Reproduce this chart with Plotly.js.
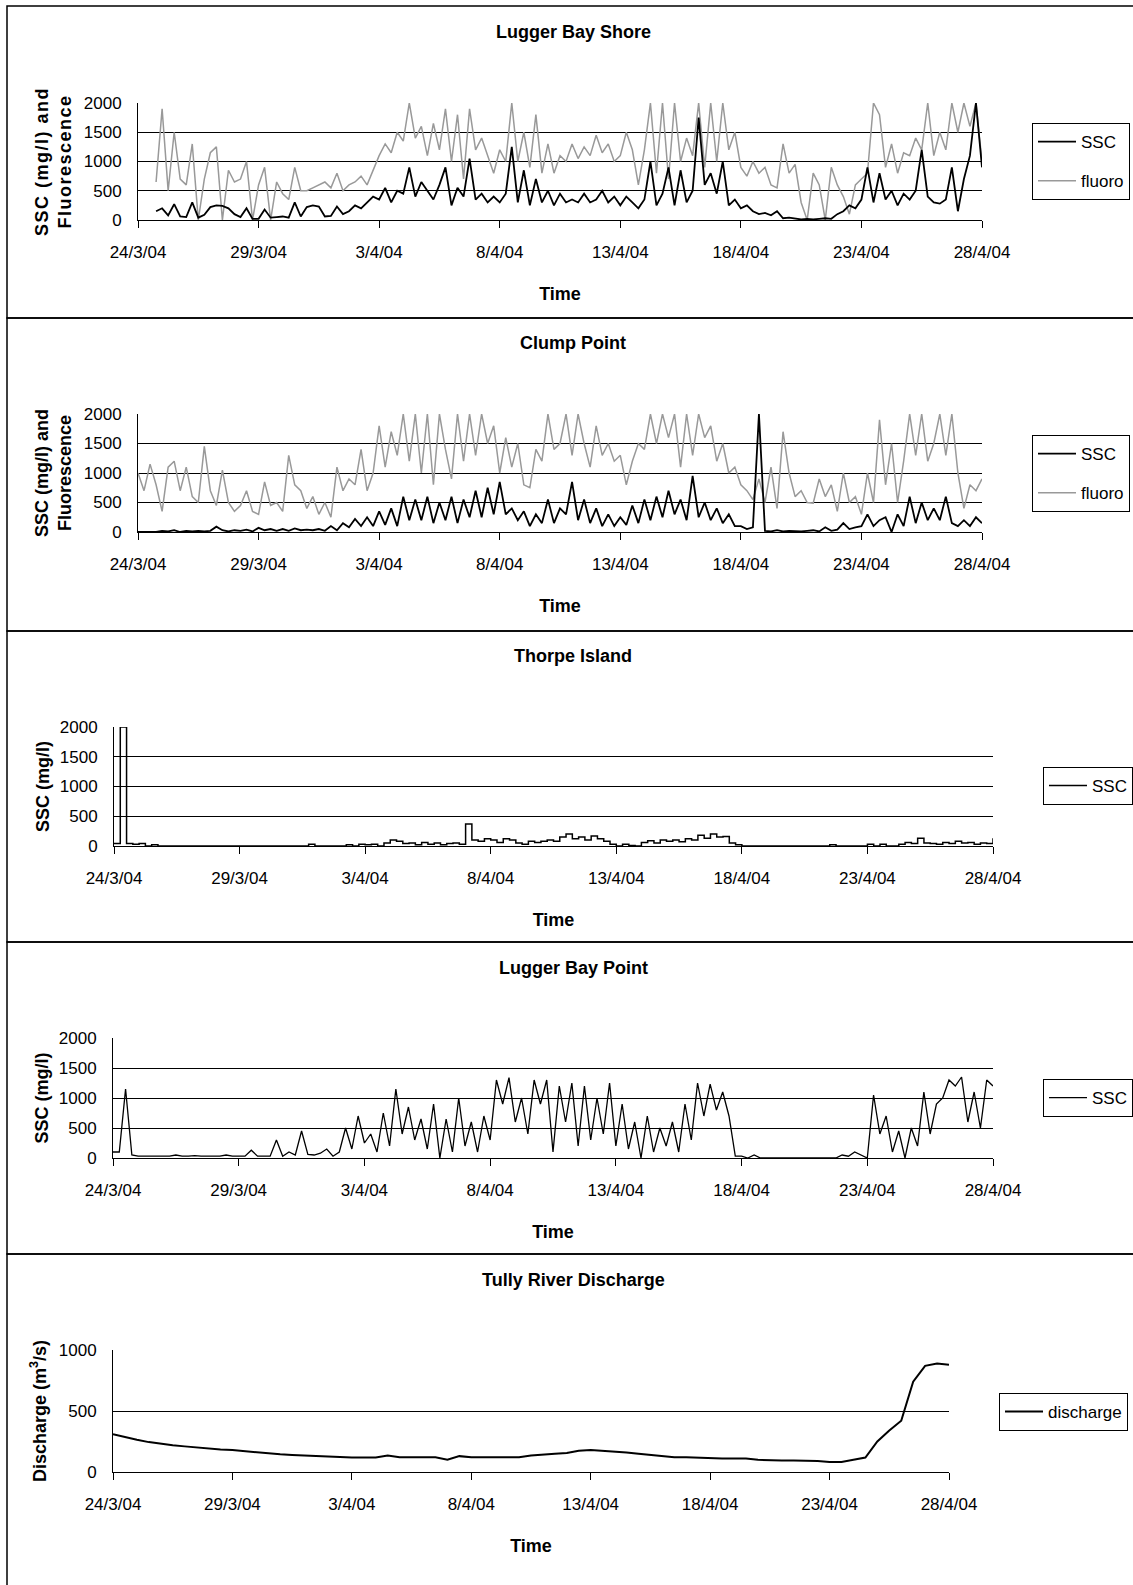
<!DOCTYPE html>
<html>
<head>
<meta charset="utf-8">
<script src="https://cdn.plot.ly/plotly-3.0.1.min.js"></script>
<style>
html,body{margin:0;padding:0;background:#fff;}
#chart{width:1133px;height:1585px;}
</style>
</head>
<body>
<div id="chart"></div>
<script>
// ---------- DATA ----------
const startDay = Date.UTC(2004, 2, 24);          // 24/3/04 00:00
const sampleStepDays = 0.25;                      // 6-hourly samples
const dischargeStepDays = 0.5;                    // 12-hourly samples
const tickDays = [0, 5, 10, 15, 20, 25, 30, 35];
const tickLabels = ['24/3/04', '29/3/04', '3/4/04', '8/4/04', '13/4/04', '18/4/04', '23/4/04', '28/4/04'];
const sscTicks = [0, 500, 1000, 1500, 2000];
const dischargeTicks = [0, 500, 1000];

const luggerShoreFluoro = [
  null,null,null,650, 1900,500,1500,700, 600,1300,0,700, 1150,1250,0,850,
  650,700,1000,0, 600,900,0,650, 450,350,900,500, 500,550,600,650,
  550,800,500,600, 650,750,600,850, 1100,1300,1150,1500, 1350,2000,1400,1600,
  1100,1650,1200,1900, 1000,1800,700,1900, 1200,1400,1100,800, 1200,1000,2000,1000,
  1500,900,1800,800, 1300,800,1100,1000, 1300,1050,1250,1100, 1450,1150,1300,1000,
  1100,1500,1200,600, 1200,2000,800,2000, 700,2000,1000,1400, 1100,2000,900,2000,
  1000,2000,1200,1500, 900,750,1000,800, 900,600,550,1300, 800,950,300,0,
  800,600,0,900, 600,400,100,600, 700,800,2000,1800, 900,1300,800,1150,
  1100,1400,1200,2000, 1100,1500,1200,2000, 1500,2000,1600,2000, 1000
];
const luggerShoreSSC = [
  null,null,null,150, 200,80,270,60, 50,300,40,90, 220,250,240,200,
  100,50,200,20, 20,180,40,50, 60,40,300,60, 220,250,230,60,
  70,230,100,150, 250,200,300,400, 350,550,300,500, 450,900,400,650,
  500,350,600,900, 250,550,400,1050, 350,450,300,400, 300,450,1250,300,
  850,250,700,300, 500,250,450,300, 350,300,450,300, 350,500,300,400,
  250,400,300,200, 350,1000,250,450, 900,250,850,300, 500,1750,600,800,
  450,1000,250,350, 200,250,150,100, 120,80,150,30, 40,20,10,20,
  10,20,30,20, 100,150,250,200, 350,900,300,800, 350,500,250,450,
  350,500,1200,400, 300,280,350,900, 150,700,1100,2000, 900
];
const clumpFluoro = [
  1000,700,1150,800, 350,1100,1200,700, 1100,600,500,1450, 700,450,1050,500,
  350,450,700,350, 300,850,450,500, 350,1300,800,700, 400,600,300,500,
  250,1100,700,900, 800,1400,700,1000, 1800,1100,1700,1300, 2000,1200,2000,1000,
  2000,800,2000,1400, 900,2000,1200,2000, 1300,2000,1500,1800, 1000,1600,1100,1500,
  800,750,1400,1200, 2000,1400,1500,2000, 1300,2000,1500,1100, 1800,1300,1500,1200,
  1300,800,1200,1500, 1400,2000,1500,2000, 1600,2000,1100,2000, 1300,2000,1600,1800,
  1200,1500,1000,1100, 800,700,550,900, 500,1100,400,1700, 1000,600,700,500,
  490,900,600,800, 350,1000,500,600, 300,1000,500,1900, 800,1500,500,1200,
  2000,1300,2000,1200, 1500,2000,1300,2000, 1000,400,800,700, 900
];
const clumpSSC = [
  0,0,10,0, 20,10,30,0, 20,10,20,10, 20,90,30,10,
  30,20,40,10, 70,30,50,20, 50,20,60,30, 40,30,50,20,
  100,30,150,80, 220,100,250,100, 350,120,400,100, 600,200,550,200,
  600,150,500,200, 600,150,550,250, 700,250,750,300, 850,300,400,200,
  350,100,300,150, 550,150,400,300, 850,200,550,150, 400,100,300,100,
  250,120,450,150, 550,200,600,250, 700,300,550,200, 950,250,500,200,
  400,150,300,100, 100,50,80,2000, 20,10,30,10, 20,10,10,20,
  30,10,80,20, 40,150,50,80, 100,300,100,200, 250,0,300,100,
  600,150,500,200, 400,200,600,150, 100,200,100,250, 150
];
const thorpeSSC = [
  40,2000,40,30, 40,0,20,0, 0,0,0,0, 0,0,0,0,
  0,0,0,0, 0,0,0,0, 0,0,0,0, 0,0,0,30,
  0,0,0,0, 0,20,0,30, 20,30,0,50, 100,80,40,50,
  20,60,30,50, 20,40,50,30, 370,100,80,120, 100,60,120,100,
  50,30,80,60, 80,100,80,150, 200,120,150,100, 170,120,80,30,
  0,30,10,0, 60,90,50,100, 80,100,70,120, 100,180,130,200,
  150,160,50,20, 0,0,0,0, 0,0,0,0, 0,0,0,0,
  0,0,20,0, 0,0,0,0, 30,0,30,0, 0,30,60,40,
  130,50,40,30, 60,40,80,50, 60,30,50,40, 130
];
const luggerPointSSC = [
  100,100,1150,50, 30,30,30,30, 40,30,50,30, 30,40,30,30,
  40,30,50,30, 30,30,130,30, 30,30,300,30, 100,50,450,60,
  50,80,150,30, 100,500,150,700, 250,400,100,750, 200,1150,400,850,
  300,650,150,900, 0,650,100,1000, 200,600,100,700, 300,1300,900,1340,
  600,1000,400,1300, 900,1300,100,1200, 600,1250,200,1200, 300,1000,400,1250,
  200,900,150,600, 0,700,100,500, 200,600,100,900, 300,1250,700,1230,
  800,1100,700,30, 30,0,50,0, 0,0,0,0, 0,0,0,0,
  0,0,0,0, 50,30,100,50, 0,1050,400,700, 100,450,0,500,
  200,1100,400,900, 1000,1300,1200,1350, 600,1100,500,1300, 1200
];
const tullyDischarge = [
  310,285,265,245,230,220,210,200,190,185, 180,170,160,150,145,140,135,130,125,120,
  118,118,118,135,120,120,120,120,100,130, 120,120,120,120,120,135,145,150,155,175,
  180,175,165,160,150,140,130,120,120,115, 110,110,110,110,100,95,95,95,95,90,
  82,82,100,118,250,340,420,740,870,890, 880
];

// ---------- helpers ----------
function dayToDate(d) {
  const t = new Date(startDay + Math.round(d * 86400000));
  return t.toISOString().replace('T', ' ').slice(0, 16);
}
function times(values, step) { return values.map((v, i) => dayToDate(i * step)); }

const FONT = 'Liberation Sans, Arial, sans-serif';
const W = 1133, H = 1585;
const px = x => x / W;
const py = y => 1 - y / H;

// panel geometry (pixels)
const panels = [
  {title: 'Lugger Bay Shore', box: [6, 318], plot: [138, 982, 103, 220], ytitle: 'SSC (mg/l) and<br>Fluorescence', yt: sscTicks, ymax: 2000, legend: [1032, 123], titleY: 32, ystand: 7},
  {title: 'Clump Point', box: [318, 631], plot: [138, 982, 414, 532], ytitle: 'SSC (mg/l) and<br>Fluorescence', yt: sscTicks, ymax: 2000, legend: [1032, 435], titleY: 343, ystand: 7},
  {title: 'Thorpe Island', box: [631, 942], plot: [114, 993, 727, 846], ytitle: 'SSC (mg/l)', yt: sscTicks, ymax: 2000, legend: [1043, 767], titleY: 656, ystand: 5},
  {title: 'Lugger Bay Point', box: [942, 1254], plot: [113, 993, 1038, 1158], ytitle: 'SSC (mg/l)', yt: sscTicks, ymax: 2000, legend: [1043, 1079], titleY: 968, ystand: 5},
  {title: 'Tully River Discharge', box: [1254, 1600], plot: [113, 949, 1350, 1472], ytitle: 'Discharge (m<sup>3</sup>/s)', yt: dischargeTicks, ymax: 1000, legend: [999, 1393], titleY: 1280, ystand: 7}
];

const xRange = [dayToDate(0), dayToDate(35)];
const tickVals = tickDays.map(dayToDate);

const layout = {
  width: W, height: H,
  margin: {l: 0, r: 0, t: 0, b: 0},
  paper_bgcolor: '#fff', plot_bgcolor: 'rgba(0,0,0,0)',
  font: {family: FONT, color: '#000'},
  showlegend: true,
  shapes: [], annotations: []
};

panels.forEach((p, i) => {
  const n = i === 0 ? '' : String(i + 1);
  const [x0, x1, y0, y1] = p.plot;
  layout['xaxis' + n] = {
    type: 'date', domain: [px(x0), px(x1)], anchor: 'y' + n, range: xRange,
    tickvals: tickVals, ticktext: tickLabels, ticks: 'outside', ticklen: 7, tickwidth: 1, tickcolor: '#000',
    showline: true, linecolor: '#000', linewidth: 1, showgrid: false, zeroline: false,
    tickfont: {family: FONT, size: 17, color: '#000'}, ticklabelstandoff: 10,
    title: {text: '<b>Time</b>', font: {family: FONT, size: 18, color: '#000'}, standoff: 25},
    fixedrange: true
  };
  layout['yaxis' + n] = {
    domain: [py(y1), py(y0)], anchor: 'x' + n, range: [0, p.ymax],
    tickvals: p.yt, ticks: '', showline: true, linecolor: '#000', linewidth: 1,
    showgrid: true, gridcolor: '#000', gridwidth: 1, zeroline: false,
    tickfont: {family: FONT, size: 17, color: '#000'}, ticklabelstandoff: 12,
    title: {text: '<b>' + p.ytitle + '</b>', font: {family: FONT, size: 18, color: '#000'}, standoff: p.ystand},
    fixedrange: true
  };
  layout['legend' + n] = {
    x: px(p.legend[0]), y: py(p.legend[1]), xanchor: 'left', yanchor: 'top',
    bgcolor: '#fff', bordercolor: '#000', borderwidth: 1,
    font: {family: FONT, size: 17, color: '#000'},
    traceorder: 'grouped', tracegroupgap: 14, itemwidth: 38
  };
  layout.shapes.push({type: 'rect', xref: 'paper', yref: 'paper', x0: px(7), x1: px(1160), y0: py(p.box[1]), y1: py(p.box[0]),
    line: {color: '#000', width: 1.5}, fillcolor: 'rgba(0,0,0,0)', layer: 'below'});
  layout.annotations.push({text: '<b>' + p.title + '</b>', xref: 'paper', yref: 'paper', x: px(573), y: py(p.titleY),
    xanchor: 'center', yanchor: 'middle', showarrow: false, font: {family: FONT, size: 18, color: '#000'}});
});

function series(name, values, step, n, color, width, rank, shape) {
  return {
    type: 'scatter', mode: 'lines', name: name, x: times(values, step), y: values,
    xaxis: 'x' + n, yaxis: 'y' + n, legend: 'legend' + n, legendgroup: name + n, legendrank: rank,
    line: {color: color, width: width, shape: shape || 'linear'}, connectgaps: false, hoverinfo: 'skip'
  };
}

// grey fluorescence drawn beneath SSC; legendrank lists SSC first
const traces = [
  series('fluoro', luggerShoreFluoro, sampleStepDays, '', '#999', 1.5, 2),
  series('SSC', luggerShoreSSC, sampleStepDays, '', '#000', 1.8, 1),
  series('fluoro', clumpFluoro, sampleStepDays, '2', '#999', 1.5, 2),
  series('SSC', clumpSSC, sampleStepDays, '2', '#000', 1.8, 1),
  series('SSC', thorpeSSC, sampleStepDays, '3', '#000', 1.5, 1, 'hv'),
  series('SSC', luggerPointSSC, sampleStepDays, '4', '#000', 1.3, 1),
  series('discharge', tullyDischarge, dischargeStepDays, '5', '#000', 2, 1)
];

Plotly.newPlot('chart', traces, layout, {displayModeBar: false, staticPlot: true}).then(() => {
  document.querySelectorAll('.g-ytitle text, .ytitle').forEach(el => el.setAttribute('letter-spacing', '1.5px'));
});
</script>
</body>
</html>
